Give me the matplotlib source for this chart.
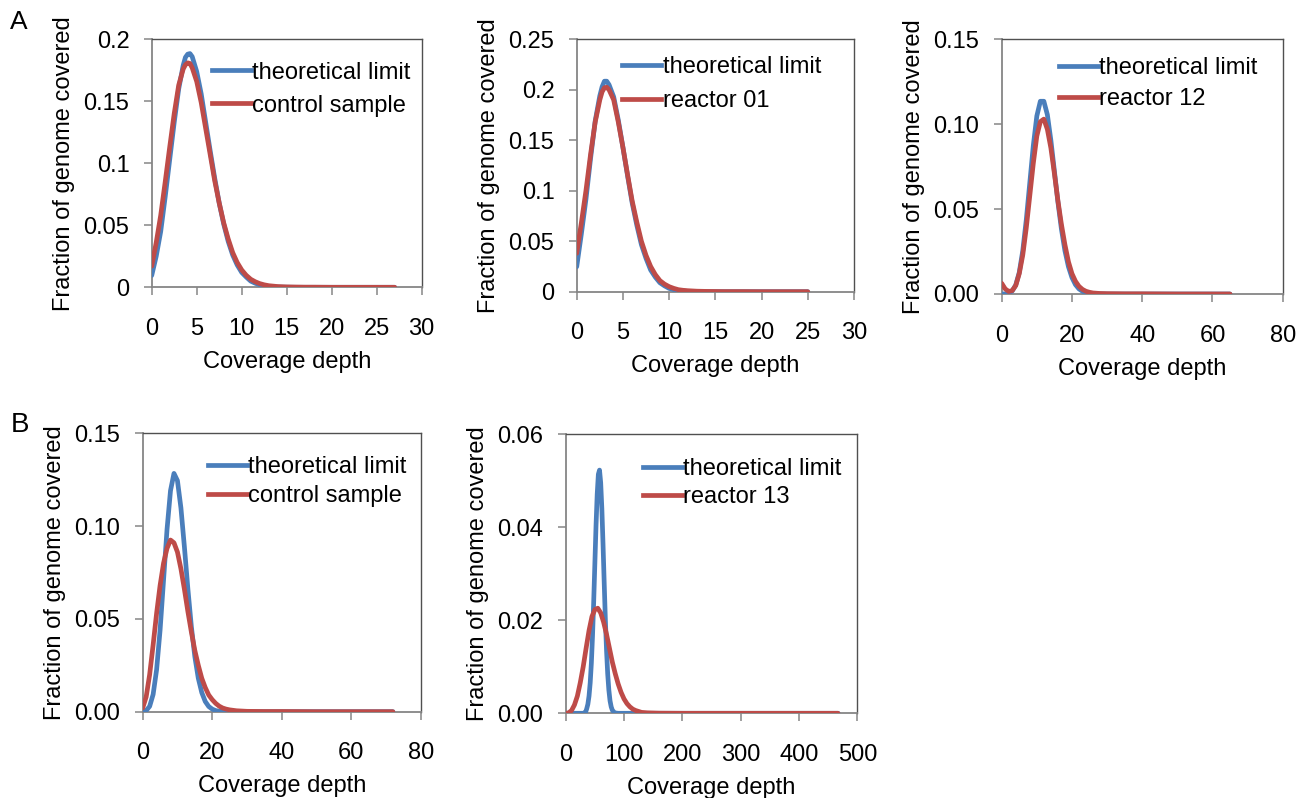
import matplotlib
matplotlib.use("Agg")
import matplotlib.pyplot as plt
from matplotlib.lines import Line2D

plt.rcParams['font.family'] = ['Liberation Sans', 'DejaVu Sans']

BLUE = '#4a7ebb'
RED = '#be4b48'

# ---------------- Data ----------------
# Panel A1: control sample
a1_x = [0, 0.5, 1, 1.5, 2, 2.5, 3, 3.5, 3.75, 4, 4.25, 4.5, 5, 5.5, 6, 6.5, 7, 7.5,
        8, 8.5, 9, 9.5, 10, 10.5, 11, 11.5, 12, 12.5, 13, 14, 15, 16, 17, 18, 20, 22,
        24, 27]
a1_theory = [0.0095, 0.025, 0.045, 0.073, 0.103, 0.133, 0.160, 0.179, 0.1855, 0.188,
             0.1885, 0.186, 0.174, 0.156, 0.133, 0.110, 0.088, 0.068, 0.051, 0.037,
             0.026, 0.018, 0.012, 0.0083, 0.005, 0.0033, 0.002, 0.0012, 0.0007, 0.0002,
             0.0001, 0, 0, 0, 0, 0, 0, 0]
a1_sample = [0.017, 0.036, 0.058, 0.085, 0.113, 0.140, 0.163, 0.176, 0.1795, 0.181,
             0.1805, 0.177, 0.166, 0.149, 0.128, 0.107, 0.086, 0.068, 0.052, 0.039,
             0.028, 0.020, 0.014, 0.0097, 0.0065, 0.0045, 0.003, 0.002, 0.0013, 0.0006,
             0.0003, 0.0002, 0.0001, 0.0001, 0, 0, 0, 0]

# Panel A2: reactor 01
a2_x = [0, 0.5, 1, 1.5, 2, 2.5, 2.75, 3, 3.25, 3.5, 4, 4.5, 5, 5.5, 6, 6.5, 7, 7.5,
        8, 8.5, 9, 9.5, 10, 10.5, 11, 11.5, 12, 13, 14, 15, 16, 18, 20, 22, 25]
a2_theory = [0.0247, 0.057, 0.0915, 0.132, 0.169, 0.194, 0.203, 0.2085, 0.2085, 0.205,
             0.193, 0.170, 0.143, 0.115, 0.088, 0.066, 0.0466, 0.033, 0.0215, 0.0145,
             0.0089, 0.0058, 0.0033, 0.002, 0.0011, 0.0006, 0.0003, 0.0001, 0, 0,
             0, 0, 0, 0, 0]
a2_sample = [0.038, 0.068, 0.100, 0.136, 0.168, 0.190, 0.198, 0.202, 0.2025, 0.200,
             0.190, 0.168, 0.143, 0.116, 0.090, 0.069, 0.050, 0.036, 0.025, 0.017,
             0.011, 0.0075, 0.005, 0.0033, 0.002, 0.0014, 0.001, 0.0005, 0.0003, 0.0002,
             0.0001, 0.0001, 0, 0, 0]

# Panel A3: reactor 12
a3_x = [0, 1, 2, 3, 4, 5, 6, 7, 8, 9, 10, 11, 12, 13, 14, 15, 16, 17, 18, 19,
        20, 21, 22, 23, 24, 25, 26, 28, 30, 35, 40, 50, 65]
a3_theory = [0, 0.0001, 0.0004, 0.0018, 0.0053, 0.0127, 0.0255, 0.0437, 0.0655, 0.0874,
             0.1048, 0.1135, 0.1135, 0.1056, 0.0905, 0.0724, 0.0543, 0.0383, 0.0255, 0.0161,
             0.0097, 0.0055, 0.0030, 0.0016, 0.0008, 0.0004, 0.0002, 0.0001, 0, 0,
             0, 0, 0]
a3_sample = [0.0063, 0.003, 0.0015, 0.002, 0.005, 0.012, 0.023, 0.039, 0.058, 0.077,
             0.093, 0.1015, 0.103, 0.097, 0.086, 0.071, 0.055, 0.041, 0.029, 0.019,
             0.012, 0.0075, 0.0045, 0.0027, 0.0016, 0.0010, 0.0006, 0.0003, 0.0002, 0.0001,
             0.0001, 0, 0]

# Panel B1: control sample
b1_x = [0, 1, 2, 3, 4, 5, 6, 7, 8, 9, 10, 11, 12, 13, 14, 15, 16, 17, 18, 19,
        20, 21, 22, 23, 24, 25, 27, 30, 35, 40, 50, 72]
b1_theory = [0.0001, 0.0006, 0.0029, 0.0093, 0.0226, 0.0439, 0.0709, 0.0982, 0.1191, 0.1284,
             0.1245, 0.1098, 0.0888, 0.0662, 0.0459, 0.0297, 0.0180, 0.0103, 0.0055, 0.0028,
             0.0014, 0.0006, 0.0003, 0.0001, 0, 0, 0, 0, 0, 0, 0, 0]
b1_sample = [0.002, 0.008, 0.020, 0.036, 0.053, 0.068, 0.080, 0.088, 0.0925, 0.091,
             0.086, 0.077, 0.066, 0.054, 0.043, 0.033, 0.025, 0.018, 0.013, 0.009,
             0.0065, 0.0045, 0.003, 0.002, 0.0014, 0.001, 0.0005, 0.0002, 0.0001, 0.0001,
             0, 0]

# Panel B2: reactor 13
b2_theory_x = [0, 30, 34, 36, 38, 40, 42, 44, 46, 48, 50, 52, 54, 56, 58, 60, 62, 64, 66,
               68, 70, 72, 74, 76, 78, 80, 84, 90, 467]
b2_theory = [0, 0, 0.0002, 0.00096, 0.00195, 0.0037, 0.00655, 0.0108, 0.0167, 0.0240,
             0.0322, 0.0404, 0.0471, 0.0514, 0.0523, 0.0496, 0.0440, 0.0364, 0.0281,
             0.0202, 0.0136, 0.0085, 0.0050, 0.0027, 0.0014, 0.00066, 0.0001, 0, 0]
b2_sample_x = [0, 5, 10, 15, 20, 25, 30, 35, 40, 45, 50, 55, 60, 65, 70, 75, 80, 85, 90,
               95, 100, 105, 110, 115, 120, 130, 140, 160, 200, 467]
b2_sample = [0, 0.0001, 0.0006, 0.0018, 0.0037, 0.0066, 0.0100, 0.0140, 0.0178, 0.0208,
             0.0223, 0.0226, 0.0216, 0.0196, 0.0170, 0.0140, 0.0110, 0.0085, 0.0063,
             0.0045, 0.0031, 0.0021, 0.0014, 0.0009, 0.0006, 0.0002, 0.0001, 0.00003, 0, 0]

# ---------------- Figure ----------------
W, H = 1305, 798
fig = plt.figure(figsize=(W / 100, H / 100), dpi=100)


def add_ax(left, right, top, bottom):
    return fig.add_axes([left / W, 1 - bottom / H, (right - left) / W, (bottom - top) / H])


panels = [
    dict(box=(151.7, 421.7, 39.3, 287.3), xs=(a1_x, a1_x), ys=(a1_theory, a1_sample),
         label='control sample', xlim=30, xt=[0, 5, 10, 15, 20, 25, 30],
         ylim=0.2, yt=[0, 0.05, 0.1, 0.15, 0.2], yl=['0', '0.05', '0.1', '0.15', '0.2'],
         leg=(0.222, 0.91), ls=0.47),
    dict(box=(576.7, 854.0, 39.3, 291.7), xs=(a2_x, a2_x), ys=(a2_theory, a2_sample),
         label='reactor 01', xlim=30, xt=[0, 5, 10, 15, 20, 25, 30],
         ylim=0.25, yt=[0, 0.05, 0.1, 0.15, 0.2, 0.25],
         yl=['0', '0.05', '0.1', '0.15', '0.2', '0.25'], leg=(0.165, 0.933), ls=0.51),
    dict(box=(1001.7, 1282.7, 39.3, 294.0), xs=(a3_x, a3_x), ys=(a3_theory, a3_sample),
         label='reactor 12', xlim=80, xt=[0, 20, 40, 60, 80],
         ylim=0.15, yt=[0, 0.05, 0.10, 0.15], yl=['0.00', '0.05', '0.10', '0.15'],
         leg=(0.205, 0.929), ls=0.37),
    dict(box=(142.7, 420.7, 433.3, 711.7), xs=(b1_x, b1_x), ys=(b1_theory, b1_sample),
         label='control sample', xlim=80, xt=[0, 20, 40, 60, 80],
         ylim=0.15, yt=[0, 0.05, 0.10, 0.15], yl=['0.00', '0.05', '0.10', '0.15'],
         leg=(0.235, 0.917), ls=0.3),
    dict(box=(565.7, 857.3, 434.3, 713.3), xs=(b2_theory_x, b2_sample_x),
         ys=(b2_theory, b2_sample),
         label='reactor 13', xlim=500, xt=[0, 100, 200, 300, 400, 500],
         ylim=0.06, yt=[0, 0.02, 0.04, 0.06], yl=['0.00', '0.02', '0.04', '0.06'],
         leg=(0.265, 0.915), ls=0.27),
]

FS = 17
for p in panels:
    ax = add_ax(*p['box'])
    ax.plot(p['xs'][0], p['ys'][0], color=BLUE, lw=3.4, solid_capstyle='round',
            solid_joinstyle='round', zorder=3)
    ax.plot(p['xs'][1], p['ys'][1], color=RED, lw=3.4, solid_capstyle='round',
            solid_joinstyle='round', zorder=4)
    ax.set_xlim(0, p['xlim'])
    ax.set_ylim(0, p['ylim'])
    ax.set_xticks(p['xt'])
    ax.set_xticklabels([str(v) for v in p['xt']])
    ax.set_yticks(p['yt'])
    ax.set_yticklabels(p['yl'])
    ax.tick_params(axis='both', direction='out', length=6, width=1.1, color='#868686',
                   labelsize=FS)
    ax.tick_params(axis='x', pad=16)
    ax.tick_params(axis='y', pad=10)
    for s in ['left', 'bottom']:
        ax.spines[s].set_color('#868686')
        ax.spines[s].set_linewidth(1.3)
    for s in ['top', 'right']:
        ax.spines[s].set_color('#505050')
        ax.spines[s].set_linewidth(1.0)
    ax.set_xlabel('Coverage depth', fontsize=FS, labelpad=8)
    ax.set_ylabel('Fraction of genome covered', fontsize=FS, labelpad=6)
    handles = [Line2D([], [], color=BLUE, lw=3.4), Line2D([], [], color=RED, lw=3.4)]
    ax.legend(handles, ['theoretical limit', p['label']], loc='upper left',
              bbox_to_anchor=p['leg'], frameon=False, fontsize=FS, handlelength=1.65,
              handletextpad=0.05, borderpad=0, borderaxespad=0, labelspacing=p['ls'])

fig.text(10 / W, 1 - 29 / H, 'A', fontsize=19, ha='left', va='baseline')
fig.text(11 / W, 1 - 432 / H, 'B', fontsize=20, ha='left', va='baseline')

fig.savefig('out.png', dpi=100, facecolor='white')
